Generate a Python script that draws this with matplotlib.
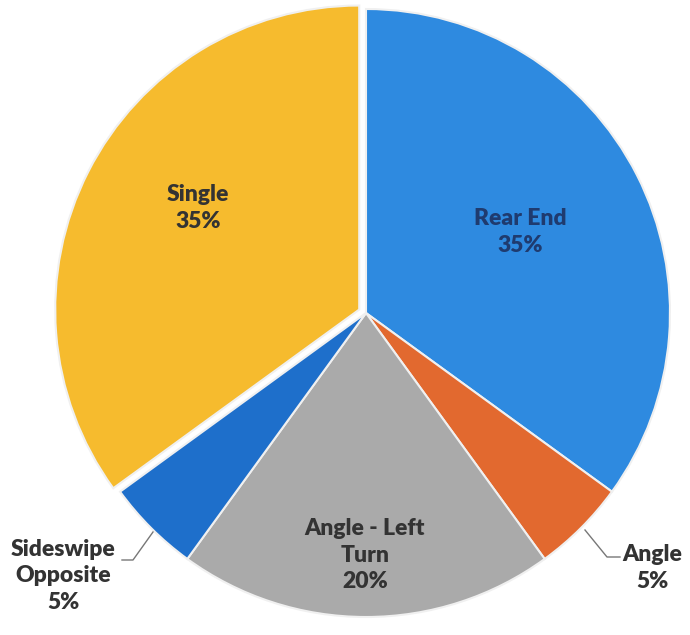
import matplotlib
matplotlib.use("Agg")
import matplotlib.pyplot as plt

categories = ["Rear End", "Angle", "Angle - Left\nTurn", "Sideswipe\nOpposite", "Single"]
values = [35, 5, 20, 5, 35]
colors = ["#2E8AE0", "#E2692F", "#AAAAAA", "#1E6FCB", "#F6BB2E"]

plt.rcParams['font.family'] = ['Lato', 'DejaVu Sans']

fig = plt.figure(figsize=(6.9, 6.35), dpi=100)
ax = fig.add_axes([0, 0, 1, 1])
cx, cy, r = 366, -313, 304
explode = [0, 0, 0, 0, 0.025 * r]  # explode is in data units
wedges, _ = ax.pie(values, colors=colors, startangle=90, counterclock=False,
                   explode=explode, center=(cx, cy), radius=r,
                   wedgeprops=dict(edgecolor="#f0f0f0", linewidth=1.5))
ax.set_xlim(0, 690)
ax.set_ylim(-635, 0)
ax.set_aspect('equal')
ax.axis('off')

txt = dict(fontsize=16.5, fontweight='heavy', ha='center', va='center', linespacing=1.3)
ax.text(520, -232, f"{categories[0]}\n{values[0]}%", color="#1F3B6F", **txt)
ax.text(198, -208, f"{categories[4]}\n{values[4]}%", color="#333333", **txt)
ax.text(365, -555, f"{categories[2]}\n{values[2]}%", color="#333333", **txt)
ax.text(63, -576, f"{categories[3]}\n{values[3]}%", color="#333333", **txt)
ax.text(652, -568, f"{categories[1]}\n{values[1]}%", color="#333333", **txt)

ax.plot([153, 133, 122], [-532, -560, -560], color="#777777", lw=1)
ax.plot([585, 607, 620], [-530, -557, -557], color="#777777", lw=1)

fig.savefig("out.png", dpi=100)
